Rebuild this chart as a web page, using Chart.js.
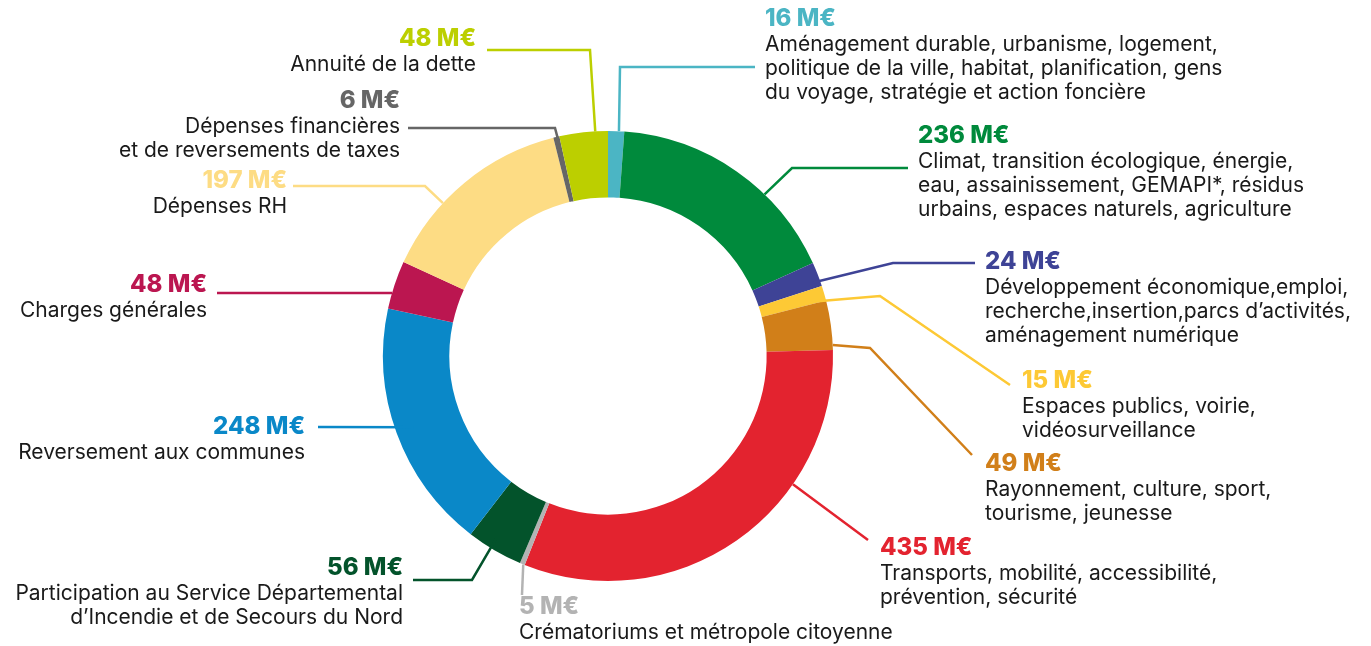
<!DOCTYPE html>
<html>
<head>
<meta charset="utf-8">
<script src="https://cdn.jsdelivr.net/npm/chart.js@4/dist/chart.umd.min.js"></script>
<style>
  html, body { margin: 0; padding: 0; background: #fff; }
  canvas { display: block; }
</style>
</head>
<body>
<canvas id="budgetChart" width="1371" height="646"></canvas>
<script>
// data, clockwise from the top
const categories = [
  "Aménagement durable, urbanisme, logement,\npolitique de la ville, habitat, planification, gens\ndu voyage, stratégie et action foncière",
  "Climat, transition écologique, énergie,\neau, assainissement, GEMAPI*, résidus\nurbains, espaces naturels, agriculture",
  "Développement économique,emploi,\nrecherche,insertion,parcs d’activités,\naménagement numérique",
  "Espaces publics, voirie,\nvidéosurveillance",
  "Rayonnement, culture, sport,\ntourisme, jeunesse",
  "Transports, mobilité, accessibilité,\nprévention, sécurité",
  "Crématoriums et métropole citoyenne",
  "Participation au Service Départemental\nd’Incendie et de Secours du Nord",
  "Reversement aux communes",
  "Charges générales",
  "Dépenses RH",
  "Dépenses financières\net de reversements de taxes",
  "Annuité de la dette"
];
const amounts = [16, 236, 24, 15, 49, 435, 5, 56, 248, 48, 197, 6, 48];
const amountLabels = amounts.map(v => v + " M€");

const colors = [
  "#4bb5c4", "#008a3c", "#3e4396", "#fdc935", "#d17f19", "#e3232f", "#b3b3b3",
  "#03532b", "#0a88c8", "#bb1650", "#fddc84", "#666666", "#bccf00"
];

// where each annotation sits (text anchor, elbow points, spot on the ring)
const labelLayout = [
  { x: 765, y: 19, align: "left", path: [[755, 67], [620, 67]], t: 0.67, dr: 0 },
  { x: 918, y: 136, align: "left", path: [[908, 168], [792, 168]], t: 0.65, dr: 0 },
  { x: 985, y: 262, align: "left", path: [[975, 263], [893, 263]], t: 0.75, dr: -8 },
  { x: 1022, y: 381, align: "left", path: [[1010, 385], [880, 296]], t: 0.9, dr: -8 },
  { x: 985, y: 464, align: "left", path: [[972, 455], [870, 348]], t: 0.9, dr: 0 },
  { x: 880, y: 548, align: "left", path: [[868, 540]], t: 0.32, dr: 0 },
  { x: 519, y: 607, align: "left", path: [[522, 595]], t: 0.3, dr: 0 },
  { x: 403, y: 568, align: "right", path: [[413, 580], [472, 580]], t: 0.58, dr: -10 },
  { x: 305, y: 427, align: "right", path: [[318, 427]], t: 0.5, dr: -18 },
  { x: 207, y: 285, align: "right", path: [[217, 293]], t: 0.33, dr: 0 },
  { x: 287, y: 181, align: "right", path: [[293, 186], [425, 186]], t: 0.354, dr: 0 },
  { x: 400, y: 101, align: "right", path: [[408, 128], [555, 128]], t: 0.68, dr: -3 },
  { x: 476, y: 39, align: "right", path: [[487, 50], [590, 50]], t: 0.74, dr: 0 }
];

const calloutPlugin = {
  id: "callouts",
  afterDraw(chart) {
    const ctx = chart.ctx;
    const arcs = chart.getDatasetMeta(0).data;
    ctx.save();
    arcs.forEach((arc, i) => {
      const lay = labelLayout[i];
      const p = arc.getProps(["x", "y", "startAngle", "endAngle", "outerRadius"], true);
      const a = p.startAngle + lay.t * (p.endAngle - p.startAngle);
      const r = p.outerRadius + lay.dr;
      const ax = p.x + Math.cos(a) * r;
      const ay = p.y + Math.sin(a) * r;

      // leader line
      ctx.strokeStyle = colors[i];
      ctx.lineWidth = 2.5;
      ctx.beginPath();
      ctx.moveTo(lay.path[0][0], lay.path[0][1]);
      for (let k = 1; k < lay.path.length; k++) ctx.lineTo(lay.path[k][0], lay.path[k][1]);
      ctx.lineTo(ax, ay);
      ctx.stroke();

      // amount
      ctx.textAlign = lay.align;
      ctx.textBaseline = "middle";
      ctx.fillStyle = colors[i];
      ctx.font = "800 24px Inter";
      ctx.fillText(amountLabels[i], lay.x, lay.y);

      // description
      ctx.fillStyle = "#1a1a1a";
      ctx.font = "400 21px Inter";
      categories[i].split("\n").forEach((line, k) => {
        ctx.fillText(line, lay.x, lay.y + 26 + k * 24);
      });
    });
    ctx.restore();
  }
};

new Chart(document.getElementById("budgetChart"), {
  type: "doughnut",
  data: {
    labels: categories,
    datasets: [{
      data: amounts,
      backgroundColor: colors,
      borderWidth: 0
    }]
  },
  options: {
    responsive: false,
    animation: false,
    cutout: "70.5%",
    layout: { padding: { left: 383, right: 538, top: 131, bottom: 65 } },
    plugins: {
      legend: { display: false },
      tooltip: { enabled: false }
    }
  },
  plugins: [calloutPlugin]
});
</script>
</body>
</html>
